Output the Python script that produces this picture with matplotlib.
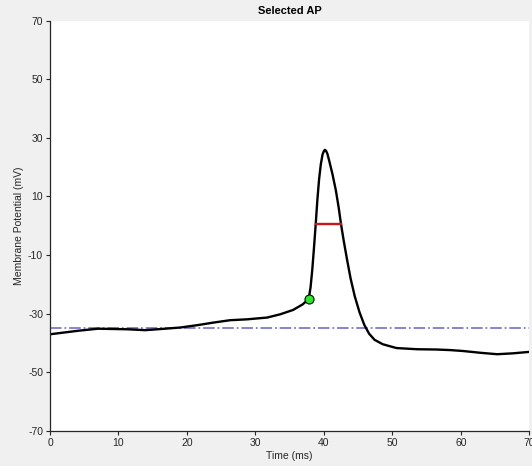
import matplotlib
matplotlib.use('Agg')
import matplotlib.pyplot as plt

plt.rcParams['font.family'] = ['Liberation Sans', 'DejaVu Sans']
plt.rcParams['axes.unicode_minus'] = False

# trace (time in ms, potential in mV)
time_ms = [0.0, 4.1, 7.0, 11.4, 13.9, 16.8, 19.0, 21.5, 23.9, 26.3, 28.8,
           31.7, 33.6, 35.5, 36.9, 37.77, 38.05, 38.3, 38.55, 38.8, 39.05,
           39.3, 39.55, 39.8, 40.0, 40.15, 40.3, 40.5, 40.75, 41.25, 41.75,
           42.15, 42.5, 42.9, 43.4, 43.9, 44.5, 45.2, 45.9, 46.6, 47.4,
           48.6, 50.6, 53.6, 56.5, 58.5, 60.3, 62.8, 65.3, 67.6, 70.0]
vm = [-37.0, -35.8, -35.1, -35.3, -35.6, -35.1, -34.7, -33.9, -33.0, -32.2,
      -31.9, -31.3, -30.2, -28.7, -26.8, -25.0, -21.0, -15.0, -7.5, 0.5,
      9.0, 16.0, 21.0, 24.3, 25.5, 25.9, 25.6, 24.6, 22.4, 17.6, 12.0,
      6.3, 0.5, -5.2, -11.8, -18.0, -24.0, -29.5, -33.8, -36.8, -38.9,
      -40.4, -41.7, -42.1, -42.2, -42.4, -42.7, -43.3, -43.8, -43.5, -43.0]

threshold_t = 37.77
threshold_v = -25.0
halfwidth_t = [38.8, 42.5]
halfwidth_v = 0.45
baseline_v = -34.7

fig = plt.figure(figsize=(5.32, 4.66), dpi=100)
fig.patch.set_facecolor('#f0f0f0')
ax = fig.add_axes([0.094, 0.075, 0.901, 0.881])
ax.set_facecolor('white')

ax.axhline(baseline_v, color='#7b7bd2', linestyle='-.', linewidth=1.3)
ax.plot(time_ms, vm, color='black', linewidth=1.7)
ax.plot(halfwidth_t, [halfwidth_v, halfwidth_v], color='#c8161d', linewidth=1.7)
ax.plot(threshold_t, threshold_v, 'o', markersize=6.5,
        markerfacecolor='#22ee22', markeredgecolor='black', markeredgewidth=0.8)

ax.set_xlim(0, 70)
ax.set_ylim(-70, 70)
ax.set_xticks(range(0, 71, 10))
ax.set_yticks(range(-70, 71, 20))

for s in ['top', 'right']:
    ax.spines[s].set_visible(False)
for s in ['left', 'bottom']:
    ax.spines[s].set_color('#262626')
    ax.spines[s].set_linewidth(0.9)
ax.tick_params(direction='out', length=3, width=0.8, colors='#262626',
               labelsize=7.5, pad=2)

ax.set_title('Selected AP', fontsize=8, fontweight='bold', pad=5)
ax.set_xlabel('Time (ms)', fontsize=7.5, color='#262626', labelpad=2)
ax.set_ylabel('Membrane Potential (mV)', fontsize=7.5, color='#262626', labelpad=3)

fig.savefig('out.png', dpi=100, facecolor=fig.get_facecolor())
